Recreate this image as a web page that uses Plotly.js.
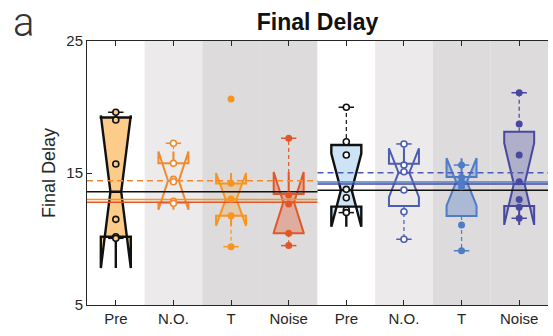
<!DOCTYPE html>
<html>
<head>
<meta charset="utf-8">
<script src="https://cdn.plot.ly/plotly-3.0.1.min.js"></script>
<style>html,body{margin:0;padding:0;background:#fff;}#chart{width:553px;height:336px;}</style>
</head>
<body>
<div id="chart"></div>
<script>
// ---- data ----
var positions = [1, 2, 3, 4, 5, 6, 7, 8];
var tickLabels = ["Pre", "N.O.", "T", "Noise", "Pre", "N.O.", "T", "Noise"];
var medians    = [13.58, 14.42, 13.0, 12.78, 13.7, 15.02, 14.32, 14.17];
var q1s        = [10.17, 12.75, 11.77, 10.43, 12.45, 12.5, 11.74, 12.5];
var q3s        = [19.2, 15.73, 14.2, 13.4, 17.12, 15.7, 14.7, 18.13];
var lowerFence = [10.05, 12.75, 9.42, 9.5, 12.0, 9.98, 9.11, 11.57];
var upperFence = [19.6, 17.25, 14.2, 17.63, 19.98, 17.2, 15.6, 21.08];
var notchSpans = [5.78, 2.2, 2.0, 2.3, 2.77, 1.85, 1.8, 3.1];
var points = [
  [19.6, 19.02, 15.68, 11.49, 10.17, 10.05],
  [17.25, 15.73, 14.52, 14.34, 12.85, 12.7],
  [20.6, 14.22, 13.03, 11.77, 9.42],
  [17.63, 13.33, 12.65, 10.43, 9.5],
  [19.98, 17.37, 16.36, 13.76, 13.13, 12.2, 12.0],
  [17.2, 15.6, 15.1, 13.71, 12.07, 9.98],
  [15.6, 14.67, 14.3, 13.96, 11.06, 9.11],
  [21.08, 18.71, 16.36, 14.34, 13.0, 12.4, 11.57]
];
// group spans for the median reference lines
var groupStart = [0.5, 4.5];
var groupEnd   = [4.5, 8.5];

// ---- styles ----
var edgeColors = ["#111111", "#F08A30", "#F7951F", "#E0582A", "#111111", "#4A5DB3", "#4F7CC7", "#48489E"];
var fillColors = ["#FDCB8A", "rgba(0,0,0,0)", "rgba(247,149,31,0.25)", "rgba(224,88,42,0.35)",
                  "#CCE4F6", "rgba(0,0,0,0)", "rgba(79,124,199,0.35)", "rgba(72,72,158,0.3)"];
var markerFill = ["#FDCB8A", "#FFFFFF", "#F7951F", "#E0582A", "#FFFFFF", "#FFFFFF", "#4F7CC7", "#48489E"];
var openMarker = [true, true, false, false, true, true, false, false];
var lineDash   = ["solid", "dash", "solid", "solid", "solid", "dash", "solid", "solid"];
var bandColors = ["#FFFFFF", "#ECEAEB", "#DDDBDC", "#DDDBDC", "#FFFFFF", "#ECEAEB", "#DDDBDC", "#DDDBDC"];

var traces = [];
// boxes
positions.forEach(function (p, i) {
  traces.push({
    type: "box",
    x: [p],
    q1: [q1s[i]], median: [medians[i]], q3: [q3s[i]],
    lowerfence: [q1s[i]], upperfence: [q3s[i]],
    notchspan: [notchSpans[i]],
    notched: true, notchwidth: 0.32,
    width: 0.52, whiskerwidth: 0,
    boxpoints: false,
    fillcolor: fillColors[i],
    line: { color: edgeColors[i], width: i === 0 || i === 4 ? 2.4 : 2 },
    hoverinfo: "skip", showlegend: false
  });
});
// whiskers (dashed) + caps
positions.forEach(function (p, i) {
  var wx = [], wy = [], cx = [], cy = [];
  if (upperFence[i] > q3s[i]) { wx.push(p, p, null); wy.push(q3s[i], upperFence[i], null); cx.push(p); cy.push(upperFence[i]); }
  if (lowerFence[i] < q1s[i]) { wx.push(p, p, null); wy.push(q1s[i], lowerFence[i], null); cx.push(p); cy.push(lowerFence[i]); }
  traces.push({ type: "scatter", mode: "lines", x: wx, y: wy,
    line: { color: edgeColors[i], width: 1.2, dash: "4px,3px" }, hoverinfo: "skip", showlegend: false });
  traces.push({ type: "scatter", mode: "markers", x: cx, y: cy,
    marker: { symbol: "line-ew", size: 11, line: { color: edgeColors[i], width: 1.5 } }, hoverinfo: "skip", showlegend: false });
});
// median reference lines across each group
positions.forEach(function (p, i) {
  var g = i < 4 ? 0 : 1;
  traces.push({ type: "scatter", mode: "lines",
    x: [groupStart[g], groupEnd[g]], y: [medians[i], medians[i]],
    line: { color: edgeColors[i], width: 1.5, dash: lineDash[i] === "dash" ? "6px,4px" : "solid" },
    hoverinfo: "skip", showlegend: false });
});
// data points
positions.forEach(function (p, i) {
  traces.push({ type: "scatter", mode: "markers",
    x: points[i].map(function () { return p; }), y: points[i],
    marker: openMarker[i]
      ? { symbol: "circle", size: 6, color: markerFill[i], line: { color: edgeColors[i], width: 1.6 } }
      : { symbol: "circle", size: 7, color: markerFill[i], line: { width: 0 } },
    hoverinfo: "skip", showlegend: false });
});

var shapes = positions.map(function (p, i) {
  return { type: "rect", layer: "below", xref: "x", yref: "paper",
    x0: p - 0.5, x1: p + 0.5, y0: 0, y1: 1, fillcolor: bandColors[i], line: { width: 0 } };
});

var layout = {
  width: 553, height: 336,
  margin: { l: 87, r: 5, t: 41, b: 31, pad: 0 },
  paper_bgcolor: "#FFFFFF", plot_bgcolor: "#FFFFFF",
  font: { family: "Liberation Sans, Arial, sans-serif", color: "#262626", size: 15 },
  title: { text: "<b>Final Delay</b>", font: { size: 23, color: "#111111", family: "Liberation Sans, Arial, sans-serif" },
    x: 0.5, xref: "paper", y: 1 - 22 / 336, yref: "container", yanchor: "middle" },
  xaxis: {
    range: [0.5, 8.5], tickvals: positions, ticktext: tickLabels,
    ticks: "inside", ticklen: 5, tickwidth: 1, tickcolor: "#262626",
    showline: true, mirror: "ticks", linecolor: "#262626", linewidth: 1,
    showgrid: false, zeroline: false, tickfont: { size: 15 }
  },
  yaxis: {
    range: [5, 25], tickvals: [5, 15, 25],
    ticks: "inside", ticklen: 5, tickcolor: "#262626",
    showline: true, linecolor: "#262626", linewidth: 1,
    showgrid: false, zeroline: false, tickfont: { size: 15 },
    title: { text: "Final Delay", font: { size: 18, color: "#262626" }, standoff: 6 }
  },
  shapes: shapes,
  annotations: [{
    text: "a", xref: "paper", yref: "paper", x: -0.165, y: 1.07, xanchor: "left", yanchor: "middle",
    showarrow: false, font: { size: 40, family: "Roboto, Liberation Sans, sans-serif", weight: 300, color: "#333333" }
  }]
};

Plotly.newPlot("chart", traces, layout, { displayModeBar: false, staticPlot: true });
</script>
</body>
</html>
